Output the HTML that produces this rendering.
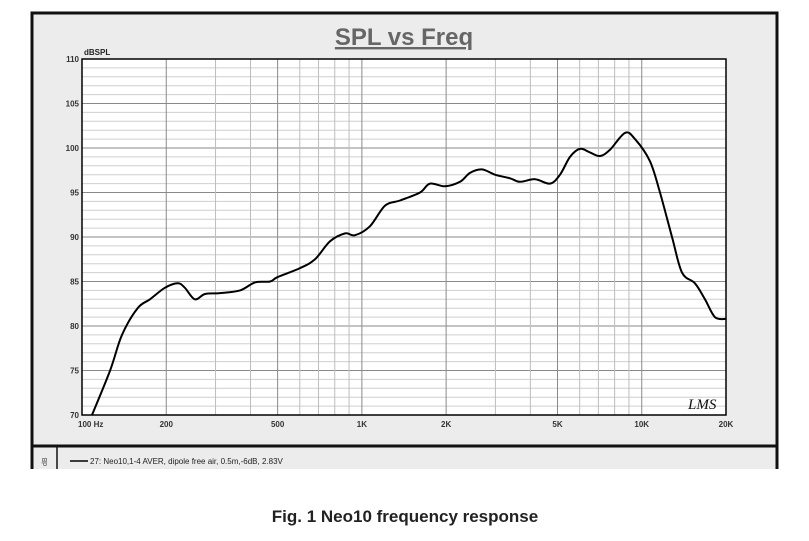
<!DOCTYPE html>
<html><head><meta charset="utf-8">
<style>
body{margin:0;background:#fff;width:809px;height:541px;overflow:hidden;font-family:"Liberation Sans",sans-serif;}
svg{display:block}
</style></head>
<body>
<svg id="chart" width="809" height="541" viewBox="0 0 809 541" xmlns="http://www.w3.org/2000/svg">
  <rect x="32" y="13" width="745" height="460" fill="#ececec" stroke="#111" stroke-width="3"/>
  <line x1="32" y1="446" x2="777" y2="446" stroke="#111" stroke-width="3"/>
  <line x1="57" y1="447" x2="57" y2="469" stroke="#111" stroke-width="1.5"/>
  <rect x="20" y="469" width="780" height="14" fill="#fff"/>
  <text x="404" y="45" text-anchor="middle" font-size="24" font-weight="bold" fill="#666" text-decoration="underline">SPL vs Freq</text>
  <rect x="82" y="59" width="644" height="356" fill="#fff"/>
  <g id="grid"></g>
  <g id="yticks"></g>
  <g id="xticks"></g>
  <text x="84" y="55" font-size="8" font-weight="bold" fill="#222">dBSPL</text>
  <path id="curve" fill="none" stroke="#000" stroke-width="2" stroke-linejoin="round"/>
  <rect x="82" y="59" width="644" height="356" fill="none" stroke="#000" stroke-width="1.5"/>
  <text x="688" y="409" font-size="15" font-style="italic" fill="#111" font-family="Liberation Serif,serif">LMS</text>
  <line x1="70" y1="461" x2="88" y2="461" stroke="#000" stroke-width="1.5"/>
  <text x="90" y="464" font-size="8" fill="#222">27: Neo10,1-4 AVER, dipole free air, 0.5m,-6dB, 2.83V</text>
  <text x="47" y="466" font-size="7" fill="#444" transform="rotate(-90 47 466)">dB</text>
  <text x="405" y="522" text-anchor="middle" font-size="17" font-weight="bold" fill="#222">Fig. 1  Neo10 frequency response</text>
</svg>
<script>
const freqs=[108.6,126,139,158,175,198,220,233,253,275,311,367,415,470,500,601,680,769,871,945,1068,1209,1368,1613,1751,1982,2242,2434,2687,2990,3383,3673,4156,4701,5104,5541,6015,6532,7092,7700,8712,9460,10700,11617,12830,13930,15490,16820,18260,20000];
const spl=[70,75,79,82,83,84.3,84.8,84.3,83,83.6,83.7,84,84.9,85,85.5,86.5,87.5,89.5,90.4,90.2,91.2,93.5,94.1,95,96,95.7,96.2,97.2,97.6,97,96.6,96.2,96.5,96,97,99,99.9,99.5,99.1,99.8,101.7,101,98.5,95,90,86,84.8,83,81,80.8];
const yTicks=[70,75,80,85,90,95,100,105,110];
const xTickVals=[100,200,500,1000,2000,5000,10000,20000];
const xTickLabels=["100  Hz","200","500","1K","2K","5K","10K","20K"];
const NS="http://www.w3.org/2000/svg";
const X0=82,X1=726,Y0=415,Y1=59,FMIN=100,FMAX=20000,DMIN=70,DMAX=110;
function xs(f){return X0+(X1-X0)*Math.log10(f/FMIN)/Math.log10(FMAX/FMIN);}
function ys(d){return Y0-(Y0-Y1)*(d-DMIN)/(DMAX-DMIN);}
function mk(tag,attrs,parent){const e=document.createElementNS(NS,tag);for(const k in attrs)e.setAttribute(k,attrs[k]);parent.appendChild(e);return e;}
const grid=document.getElementById('grid');
for(let d=DMIN+1;d<DMAX;d++){
  const l=mk('line',{x1:X0,x2:X1,y1:ys(d),y2:ys(d),stroke:d%5===0?'#8a8a8a':'#cfcfcf','stroke-width':1},grid);
  
  
}
for(let dec=100;dec<20000;dec*=10){
  for(let m=1;m<10;m++){
    const f=dec*m; if(f<=FMIN||f>=FMAX) continue;
    const major=(m===1||m===2||m===5);
    const l=mk('line',{x1:xs(f),x2:xs(f),y1:Y1,y2:Y0,stroke:major?'#8a8a8a':'#bdbdbd','stroke-width':1},grid);
    
    
  }
}
const yg=document.getElementById('yticks');
yTicks.forEach(d=>{
  const t=mk('text',{x:X0-3,y:ys(d)+3,'text-anchor':'end','font-size':8,'font-weight':'bold',fill:'#333'},yg);
  t.textContent=d;
  
  
});
const xg=document.getElementById('xticks');
xTickVals.forEach((f,i)=>{
  const t=mk('text',{x:i===0?xs(f)-4:xs(f),y:427,'text-anchor':i===0?'start':'middle','font-size':8,'font-weight':'bold',fill:'#333'},xg);
  t.textContent=xTickLabels[i];
  
  
});
const pts=freqs.map((f,i)=>[xs(f),ys(spl[i])]);
let d='M'+pts[0][0].toFixed(1)+','+pts[0][1].toFixed(1);
for(let i=0;i<pts.length-1;i++){
  const p0=pts[Math.max(i-1,0)],p1=pts[i],p2=pts[i+1],p3=pts[Math.min(i+2,pts.length-1)];
  const c1=[p1[0]+(p2[0]-p0[0])/6,p1[1]+(p2[1]-p0[1])/6];
  const c2=[p2[0]-(p3[0]-p1[0])/6,p2[1]-(p3[1]-p1[1])/6];
  d+=' C'+c1.map(v=>v.toFixed(1))+' '+c2.map(v=>v.toFixed(1))+' '+p2.map(v=>v.toFixed(1));
}
document.getElementById('curve').setAttribute('d',d);
</script>
</body></html>
